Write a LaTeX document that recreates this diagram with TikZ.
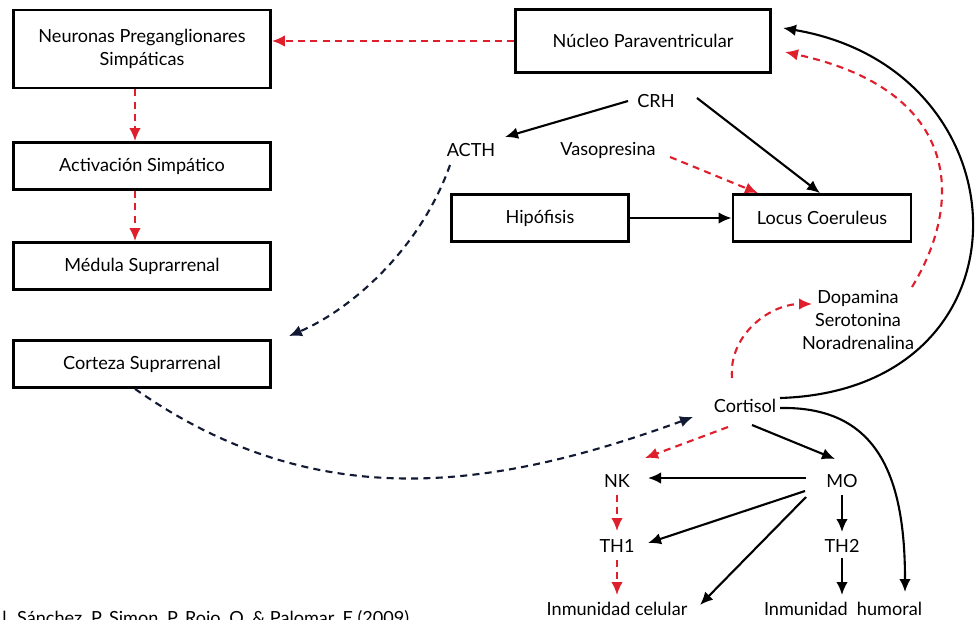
\documentclass[tikz,border=0pt]{standalone}
\usepackage{fontspec}
\setmainfont{Lato}
\usepackage{xcolor}
\usetikzlibrary{positioning, arrows.meta, calc}
\definecolor{rojo}{HTML}{DF1F2B}
\definecolor{marino}{HTML}{121A33}
\begin{document}
\begin{tikzpicture}[
      x=0.02cm, y=-0.02cm,
      font=\fontsize{10.3}{13.3}\selectfont,
      caja/.style={draw, line width=1.6pt, align=center, minimum width=5.14cm,
        minimum height=0.94cm},
      txt/.style={inner sep=1pt, align=center},
      arr/.style={-{Latex[length=2.6mm, width=2.3mm]}, line width=1.2pt},
      rarr/.style={arr, rojo, dash pattern=on 4pt off 3pt},
      narr/.style={arr, marino, dash pattern=on 4pt off 3pt}
    ]
    \useasboundingbox (0,0) rectangle (979,619);
    \clip (0,0) rectangle (979,619);
    % cajas
    \node[caja, minimum height=1.56cm] (nps) at (142,49)
      {Neuronas Preganglionares\\Simpáticas};
    \node[caja] (act) at (142,166) {Activación Simpático};
    \node[caja] (med) at (142,266) {Médula Suprarrenal};
    \node[caja] (cor) at (142,364) {Corteza Suprarrenal};
    \node[caja, minimum width=5.1cm, minimum height=1.26cm] (npv) at (643,41)
      {Núcleo Paraventricular};
    \node[caja, minimum width=3.54cm] (hip) at (540,218) {Hipófisis};
    \node[caja, minimum width=3.56cm] (lc) at (822,218) {Locus Coeruleus};
    % textos
    \node[txt] (crh) at (656,101) {CRH};
    \node[txt] (acth) at (471,150) {ACTH};
    \node[txt] (vaso) at (608,150) {Vasopresina};
    \node[txt] (dsn) at (858,320) {Dopamina\\Serotonina\\Noradrenalina};
    \node[txt] (cort) at (745,406) {Cortisol};
    \node[txt] (nk) at (617,481) {NK};
    \node[txt] (mo) at (842,481) {MO};
    \node[txt] (th1) at (617,546) {TH1};
    \node[txt] (th2) at (842,546) {TH2};
    \node[txt] (icel) at (617,609) {Inmunidad celular};
    \node[txt] (ihum) at (843,609) {Inmunidad\ \ humoral};
    \node[inner sep=0pt, anchor=base west] (cita) at (2,624)
      {l. Sánchez, P. Simon, P. Rojo, O. \& Palomar, E (2009)};
    % eje simpatico
    \draw[rarr] (npv.west) -- (nps.east |- npv.west);
    \draw[rarr] ($(nps.south)+(-7,0)$) -- ($(act.north)+(-7,0)$);
    \draw[rarr] ($(act.south)+(-7,0)$) -- ($(med.north)+(-7,0)$);
    % CRH
    \draw[arr] ($(crh)+(-28,0)$) -- ($(acth)+(34,-13)$);
    \draw[arr] ($(crh)+(41,-3)$) -- ($(lc.north)+(-2,0)$);
    \draw[rarr] ($(vaso)+(62,7)$) -- ($(lc.north)+(-64,0)$);
    \draw[arr] (hip.east) -- (lc.west);
    % eje cortical
    \draw[narr] ($(acth)+(-21,15)$) .. controls (420,250) and (350,310) .. ($(cor.north east)+(17,-3)$);
    \draw[narr] ($(cor.south)+(-7,0)$) to[out=-35, in=200] ($(cort)+(-52,11)$);
    % retroalimentacion
    \draw[rarr] ($(cort)+(-13,-28)$) to[out=95, in=180] ($(dsn)+(-46,-16)$);
    \draw[rarr] ($(dsn)+(54,-33)$) .. controls (965,200) and (960,90) .. ($(npv)+(142,11)$);
    \draw[arr] ($(cort)+(35,-8)$) .. controls (1040,390) and (1030,70) .. ($(npv)+(140,-13)$);
    % inmunidad
    \draw[rarr] ($(cort)+(-17,21)$) -- ($(nk)+(28,-23)$);
    \draw[arr] ($(cort)+(7,19)$) -- ($(mo)+(-7,-22)$);
    \draw[arr] ($(cort)+(35,2)$) .. controls (880,406) and (905,480) .. ($(ihum)+(62,-17)$);
    \draw[arr] ($(mo)+(-36,-3)$) -- ($(nk)+(31,-3)$);
    \draw[arr] ($(mo)+(-37,10)$) -- ($(th1)+(31,-3)$);
    \draw[arr] ($(mo)+(-36,16)$) -- ($(icel)+(83,-4)$);
    \draw[arr] ($(mo)+(0,14)$) -- ($(th2)+(0,-14)$);
    \draw[arr] ($(th2)+(0,12)$) -- ($(ihum)+(-1,-14)$);
    \draw[rarr] ($(nk)+(0,14)$) -- ($(th1)+(0,-15)$);
    \draw[rarr] ($(th1)+(0,14)$) -- ($(icel)+(0,-14)$);
  \end{tikzpicture}
\end{document}
